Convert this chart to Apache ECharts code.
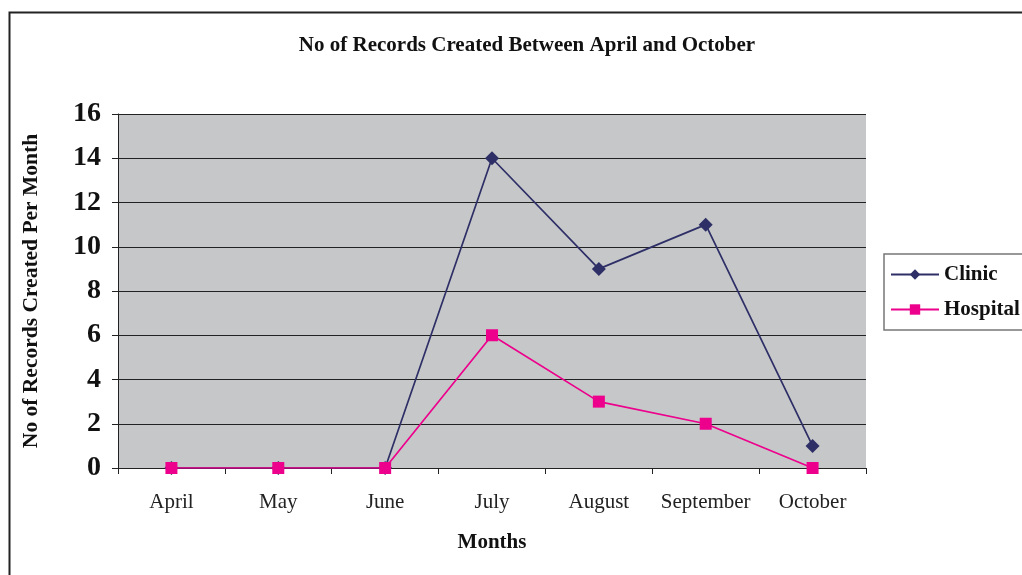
<!DOCTYPE html>
<html><head><meta charset="utf-8">
<script src="https://cdn.jsdelivr.net/npm/echarts@6/dist/echarts.min.js"></script>
<style>html,body{margin:0;padding:0;background:#fff}#c{width:1022px;height:575px}</style>
</head><body><div id="c"></div>
<script>
const months = ['April','May','June','July','August','September','October'];
const clinic = [0,0,0,14,9,11,1];
const hospital = [0,0,0,6,3,2,0];
const yTicks = [0,2,4,6,8,10,12,14,16];
const serif = '"Liberation Serif","DejaVu Serif",serif';
const chart = echarts.init(document.getElementById('c'));
chart.setOption({
  backgroundColor:'#fff',
  animation:false,
  textStyle:{fontFamily:serif},
  title:{text:'No of Records Created Between April and October',left:522,textAlign:'center',top:30,
    textStyle:{fontFamily:serif,fontWeight:'bold',fontSize:21,color:'#111'}},
  graphic:[{type:'rect',shape:{x:9.5,y:12.5,width:1100,height:700},style:{fill:'none',stroke:'#222',lineWidth:2},z:-1}],
  grid:{left:118,right:156,top:114,bottom:107,show:true,backgroundColor:'#c6c7c9',borderWidth:0},
  legend:{orient:'vertical',left:884,top:254,itemWidth:48,itemHeight:13,itemGap:14,padding:[10,40,10,6],
    borderColor:'#777',borderWidth:1.5,
    textStyle:{fontFamily:serif,fontWeight:'bold',fontSize:21,color:'#111'},
    data:['Clinic','Hospital']},
  xAxis:{type:'category',data:months,boundaryGap:true,name:'Months',nameLocation:'middle',nameGap:64,
    nameTextStyle:{fontFamily:serif,fontWeight:'bold',fontSize:21,color:'#111'},
    axisLine:{lineStyle:{color:'#222',width:1}},
    axisTick:{show:true,interval:0,length:6,lineStyle:{color:'#222'}},
    axisLabel:{interval:0,fontFamily:serif,fontSize:21,color:'#222',margin:24}},
  yAxis:{type:'value',min:0,max:16,interval:2,name:'No of Records Created Per Month',nameLocation:'middle',nameGap:76,
    nameTextStyle:{fontFamily:serif,fontWeight:'bold',fontSize:21.5,color:'#111'},
    axisLine:{show:true,lineStyle:{color:'#222',width:1}},
    axisTick:{show:true,length:6,lineStyle:{color:'#222'}},
    axisLabel:{fontFamily:serif,fontWeight:'bold',fontSize:28,color:'#111',margin:17,
      formatter:v=>yTicks.includes(v)?String(v):''},
    splitLine:{lineStyle:{color:'#222',width:1}}},
  series:[
    {name:'Clinic',type:'line',data:clinic,symbol:'diamond',symbolSize:14,color:'#2e2f66',
      lineStyle:{color:'#2e2f66',width:1.7},itemStyle:{color:'#2e2f66'},z:2},
    {name:'Hospital',type:'line',data:hospital,symbol:'rect',symbolSize:12,color:'#ec008c',
      lineStyle:{color:'#ec008c',width:1.7},itemStyle:{color:'#ec008c'},z:3}
  ]
});
</script></body></html>
